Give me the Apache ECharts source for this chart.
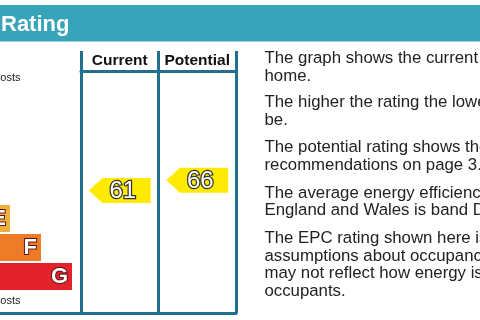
<!DOCTYPE html>
<html><head><meta charset="utf-8">
<script src="https://cdn.jsdelivr.net/npm/echarts@6/dist/echarts.min.js"></script>
<style>html,body{margin:0;padding:0;background:#fff}#c{width:480px;height:320px}</style>
</head><body><div id="c"></div>
<script>
// ---- data ----
const bands = ['A','B','C','D','E','F','G'];
const bandMin = [92,81,69,55,39,21,1];
const bandMax = [100,91,80,68,54,38,20];
const barLength = [1,2,3,4,5,6,7];
const bandColors = ['#008054','#19b459','#8dce46','#ffd500','#f0ae3c','#ee7b27','#e3232b'];
const columns = ['Current','Potential'];
const ratings = [61, 66];
const headerTitle = 'Rating';
const topNote = 'Very energy efficient - lower running costs';
const bottomNote = 'Not energy efficient - higher running costs';
const paragraphs = [
  ['The graph shows the current energy efficiency of your', 'home.'],
  ['The higher the rating the lower your fuel bills are likely to', 'be.'],
  ['The potential rating shows the effect of undertaking the', 'recommendations on page 3.'],
  ['The average energy efficiency rating for a dwelling in', 'England and Wales is band D (rating 60).'],
  ['The EPC rating shown here is based on standard', 'assumptions about occupancy and energy use and', 'may not reflect how energy is consumed by individual', 'occupants.']
];

// ---- layout ----
const FONT = '"Liberation Sans", Arial, sans-serif';
const TEAL = '#37a4b9';
const FRAME = '#21708f';
const BAND_H = 29, BARS_TOP = 88, COL_TOP = 71, COL_BOTTOM = 313;
const COL_LEFT = 81, COL_W = 155, BARS_W = 81;
const UNIT = 31; // px per bar-length unit
const xMinB = 5 - 10 / UNIT;

function bandPos(r) {
  for (let i = 0; i < bands.length; i++) {
    if (r >= bandMin[i] && r <= bandMax[i]) {
      return i + (bandMax[i] + 0.5 - r) / (bandMax[i] - bandMin[i] + 1);
    }
  }
  return 0;
}
const yMinC = -(BARS_TOP - COL_TOP) / BAND_H;
const yMaxC = yMinC + (COL_BOTTOM - COL_TOP) / BAND_H;

const paraTops = [50, 93.8, 138.8, 184.4, 229.8];
const graphics = [
  { type: 'rect', z: -10, shape: { x: 0, y: 5, width: 480, height: 36.5 }, style: { fill: TEAL } },
  { type: 'text', style: { text: headerTitle, x: 1, y: 24.5, verticalAlign: 'middle', font: 'bold 22px ' + FONT, fill: '#fff' } },
  { type: 'text', style: { text: topNote, x: 20.5, y: 78, align: 'right', verticalAlign: 'middle', font: '11px ' + FONT, fill: '#222' } },
  { type: 'text', style: { text: bottomNote, x: 20.5, y: 301, align: 'right', verticalAlign: 'middle', font: '11px ' + FONT, fill: '#222' } }
];
paragraphs.forEach((lines, i) => {
  graphics.push({ type: 'text', style: { text: lines.join('\n'), x: 264.5, y: paraTops[i], lineHeight: 17.6, font: '16.8px ' + FONT, fill: '#222' } });
});

const frameLine = { color: FRAME, width: 3 };
const option = {
  backgroundColor: '#fff',
  animation: false,
  graphic: graphics,
  grid: [
    { left: 0, top: BARS_TOP, width: BARS_W, height: BAND_H * bands.length },
    { left: COL_LEFT, top: COL_TOP, width: COL_W, height: COL_BOTTOM - COL_TOP }
  ],
  xAxis: [
    { type: 'value', gridIndex: 0, min: xMinB, max: xMinB + BARS_W / UNIT, offset: COL_BOTTOM - (BARS_TOP + BAND_H * bands.length),
      axisLine: { show: true, onZero: false, lineStyle: frameLine }, axisTick: { show: false }, axisLabel: { show: false }, splitLine: { show: false } },
    { type: 'category', gridIndex: 1, data: columns, position: 'top',
      axisLine: { show: true, onZero: false, lineStyle: frameLine },
      axisTick: { show: true, interval: 0, length: 20, lineStyle: frameLine },
      axisLabel: { show: true, interval: 0, hideOverlap: false, margin: 2.5, fontFamily: FONT, fontSize: 15.5, fontWeight: 'bold', color: '#111' },
      splitLine: { show: true, interval: 0, lineStyle: frameLine } },
    { type: 'category', gridIndex: 1, data: columns, position: 'bottom',
      axisLine: { show: true, onZero: false, lineStyle: frameLine }, axisTick: { show: false }, axisLabel: { show: false }, splitLine: { show: false } }
  ],
  yAxis: [
    { type: 'category', gridIndex: 0, data: bands, inverse: true, show: false },
    { type: 'value', gridIndex: 1, min: yMinC, max: yMaxC, inverse: true, show: false }
  ],
  series: [
    { type: 'bar', xAxisIndex: 0, yAxisIndex: 0, barWidth: 27, clip: true,
      data: barLength.map((v, i) => ({ value: v, itemStyle: { color: bandColors[i] } })),
      label: { show: true, position: 'insideRight', distance: 4, formatter: p => bands[p.dataIndex],
        fontFamily: FONT, fontSize: 22, fontWeight: 'bold', color: '#fff', textBorderColor: '#5a1515', textBorderWidth: 2 } },
    { type: 'scatter', xAxisIndex: 1, yAxisIndex: 1,
      symbol: 'path://M0,50 L22,0 L100,0 L100,100 L22,100 Z', symbolSize: [62, 25],
      itemStyle: { color: '#ffea00', opacity: 1 },
      data: columns.map((c, i) => [c, bandPos(ratings[i])]),
      label: { show: true, position: 'inside', offset: [3, 1], formatter: p => String(ratings[p.dataIndex]),
        fontFamily: FONT, fontSize: 24, color: '#fff', textBorderColor: '#333', textBorderWidth: 2.5 } }
  ]
};
const chart = echarts.init(document.getElementById('c'), null, { renderer: 'canvas' });
chart.setOption(option);
</script>
</body></html>
